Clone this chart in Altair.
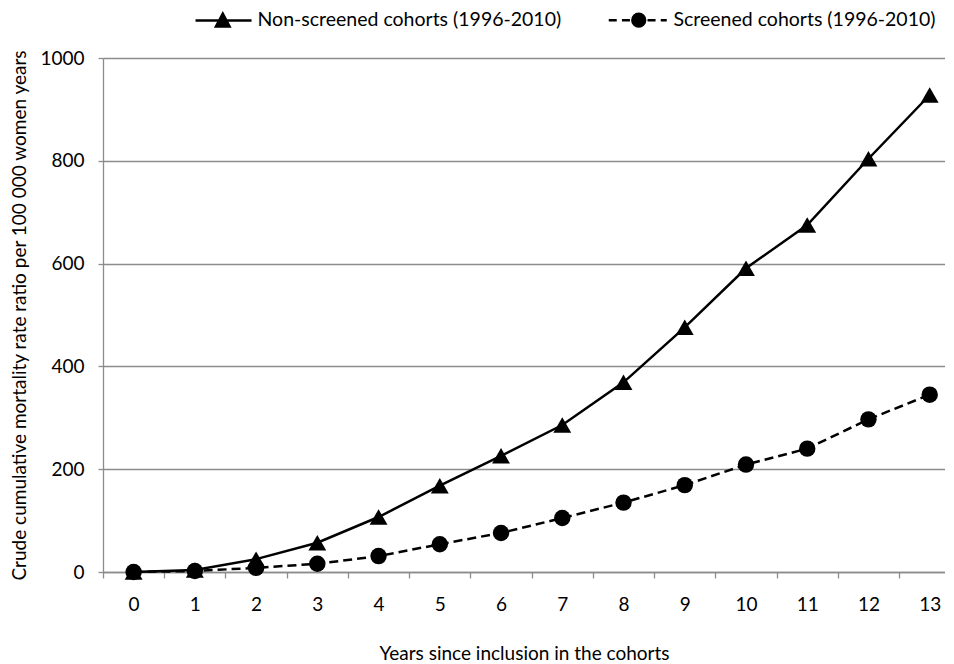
import altair as alt
import pandas as pd

# ---- data ----
years = list(range(14))
non_screened = [0, 4, 25, 57, 107, 168, 226, 286, 369, 476, 591, 675, 804, 928]
screened = [0, 2, 8, 16, 31, 54, 76, 105, 135, 169, 209, 240, 297, 345]
series_names = ["Non-screened cohorts (1996-2010)", "Screened cohorts (1996-2010)"]
y_ticks = [0, 200, 400, 600, 800, 1000]
x_title = "Years since inclusion in  the cohorts"
y_title = "Crude cumulative mortality rate ratio per 100 000 women years"

df = pd.DataFrame({
    "year": years * 2,
    "value": non_screened + screened,
    "series": [series_names[0]] * len(years) + [series_names[1]] * len(years),
})

FONT = "Lato"
GRAY = "#8c8c8c"
W, H = 842, 514
half_band = W / 13.75 / 2

x_enc = alt.X(
    "year:Q",
    scale=alt.Scale(domain=[-0.5, 13.25], nice=False, zero=False),
    axis=alt.Axis(
        values=years, title=x_title, grid=False,
        tickOffset=-half_band, labelOffset=half_band,
        domainColor=GRAY, domainWidth=1.3, tickColor=GRAY, tickWidth=1.3, tickSize=6,
        labelPadding=17, labelFont=FONT, labelFontSize=19, labelColor="black",
        titleFont=FONT, titleFontSize=19, titleFontWeight="normal", titleColor="black",
        titlePadding=30,
    ),
)
y_enc = alt.Y(
    "value:Q",
    scale=alt.Scale(domain=[0, 1000], nice=False),
    axis=alt.Axis(
        values=y_ticks, format="d", title=y_title, grid=True, gridColor=GRAY, gridWidth=1.3,
        domainColor=GRAY, domainWidth=1.3, tickColor=GRAY, tickWidth=1.3, tickSize=5,
        labelPadding=14, labelFont=FONT, labelFontSize=19, labelColor="black",
        titleFont=FONT, titleFontSize=19, titleFontWeight="normal", titleColor="black",
        titlePadding=10,
    ),
)

base = alt.Chart(df)

line_ns = base.transform_filter(alt.datum.series == series_names[0]).mark_line(
    color="black", strokeWidth=2.5
).encode(x=x_enc, y=y_enc)
line_s = base.transform_filter(alt.datum.series == series_names[1]).mark_line(
    color="black", strokeWidth=2.5, strokeDash=[9, 5]
).encode(x=x_enc, y=y_enc)

pts_ns = base.transform_filter(alt.datum.series == series_names[0]).mark_point(
    shape="triangle-up", filled=True, size=320, color="black", opacity=1
).encode(x=x_enc, y=y_enc)
pts_s = base.transform_filter(alt.datum.series == series_names[1]).mark_point(
    shape="circle", filled=True, size=270, color="black", opacity=1
).encode(x=x_enc, y=y_enc)

# legend symbols: line + marker drawn as one symbol path
tri_sym = "M-3.4,0H3.6M0,-0.85L0.85,0.75L-0.85,0.75Z"
circ_sym = ("M-3.75,0H-2.75M-2.1,0H-1.1M1.1,0H2.1M2.75,0H3.5"
            "M-0.8,0A0.8,0.8,0,1,1,0.8,0A0.8,0.8,0,1,1,-0.8,0Z")


def make_legend():
    return alt.Legend(
        title=None, orient="none", legendX=110, legendY=-48,
        direction="horizontal", padding=0,
        symbolSize=256, symbolFillColor="black", symbolStrokeColor="black",
        symbolStrokeWidth=2.5, symbolOpacity=1, symbolOffset=0,
        labelFont=FONT, labelFontSize=19.5, labelColor="black",
        labelOffset=25, labelLimit=400, columnPadding=41,
    )


legend_layer = base.transform_filter("false").mark_point(
    filled=False, strokeWidth=2.5, opacity=1
).encode(
    x=x_enc, y=y_enc,
    shape=alt.Shape(
        "series:N",
        scale=alt.Scale(domain=series_names, range=[tri_sym, circ_sym]),
        legend=make_legend(),
    ),
    stroke=alt.Stroke(
        "series:N",
        scale=alt.Scale(domain=series_names, range=["black", "black"]),
        legend=make_legend(),
    ),
    fill=alt.Fill(
        "series:N",
        scale=alt.Scale(domain=series_names, range=["black", "black"]),
        legend=make_legend(),
    ),
)

chart = alt.layer(line_ns, line_s, pts_ns, pts_s, legend_layer).properties(
    width=W, height=H, padding={"left": 2, "top": 2, "right": 0, "bottom": 0}
).configure_view(stroke=None)

chart.save("out.html", embed_options={"renderer": "svg", "actions": False})
